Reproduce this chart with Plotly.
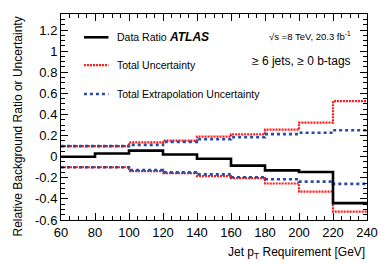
import plotly.graph_objects as go

edges = [60, 80, 100, 120, 140, 160, 180, 200, 220, 240]
data_ratio = [0.0, 0.03, 0.057, 0.02, -0.02, -0.085, -0.13, -0.145, -0.44]
tot_up = [0.1, 0.1, 0.135, 0.152, 0.19, 0.212, 0.256, 0.323, 0.527]
tot_dn = [-0.1, -0.1, -0.137, -0.157, -0.185, -0.203, -0.254, -0.332, -0.52]
ext_up = [0.1, 0.1, 0.112, 0.14, 0.165, 0.184, 0.214, 0.227, 0.25]
ext_dn = [-0.1, -0.1, -0.127, -0.149, -0.168, -0.195, -0.214, -0.236, -0.258]

xticks = [60, 80, 100, 120, 140, 160, 180, 200, 220, 240]
yticks = [-0.6, -0.4, -0.2, 0, 0.2, 0.4, 0.6, 0.8, 1.0, 1.2]
yticklabels = ["-0.6", "-0.4", "-0.2", "0", "0.2", "0.4", "0.6", "0.8", "1", "1.2"]

RED = "#ff1a1a"
BLUE = "#2a4aa8"
FONT = "Liberation Sans"

def step(vals):
    return list(vals) + [vals[-1]]

fig = go.Figure()
for vals in (tot_up, tot_dn):
    fig.add_trace(go.Scatter(x=edges, y=step(vals), mode="lines", line_shape="hv",
                             line=dict(color=RED, width=2.2, dash="2px,1px"), showlegend=False))
for vals in (ext_up, ext_dn):
    fig.add_trace(go.Scatter(x=edges, y=step(vals), mode="lines", line_shape="hv",
                             line=dict(color=BLUE, width=2.6, dash="3px,3px"), showlegend=False))
fig.add_trace(go.Scatter(x=edges, y=step(data_ratio), mode="lines", line_shape="hv",
                         line=dict(color="black", width=2.6), showlegend=False))

# legend samples
leg = [("Data Ratio", dict(color="black", width=2.6), 0.887),
       ("Total Uncertainty", dict(color=RED, width=2.2, dash="2px,1px"), 0.752),
       ("Total Extrapolation Uncertainty", dict(color=BLUE, width=2.6, dash="3px,3px"), 0.612)]
for txt, ln, yy in leg:
    fig.add_shape(type="line", xref="paper", yref="paper", x0=0.075, x1=0.155, y0=yy, y1=yy, line=ln)
    fig.add_annotation(text=txt, xref="paper", yref="paper", x=0.175, y=yy, xanchor="left",
                       yanchor="middle", showarrow=False, font=dict(family=FONT, size=10.5, color="black"))

fig.add_annotation(text="<b><i>ATLAS</i></b>", xref="paper", yref="paper", x=0.345, y=0.887,
                   xanchor="left", yanchor="middle", showarrow=False,
                   font=dict(family=FONT, size=12, color="black"))
fig.add_annotation(text="√s =8 TeV, 20.3 fb<sup>-1</sup>", xref="paper", yref="paper", x=0.955, y=0.895,
                   xanchor="right", yanchor="middle", showarrow=False,
                   font=dict(family=FONT, size=9.5, color="black"))
fig.add_annotation(text="≥ 6 jets, ≥ 0 b-tags", xref="paper", yref="paper", x=0.955, y=0.77,
                   xanchor="right", yanchor="middle", showarrow=False,
                   font=dict(family=FONT, size=12, color="black"))

fig.add_annotation(text="Jet p<sub>T</sub> Requirement [GeV]", xref="paper", yref="paper", x=1.0, y=-0.11,
                   xanchor="right", yanchor="top", showarrow=False,
                   font=dict(family=FONT, size=12, color="black"))
fig.add_annotation(text="Relative Background Ratio or Uncertainty", xref="paper", yref="paper",
                   x=-0.139, y=1.0, xanchor="center", yanchor="top", textangle=-90, showarrow=False,
                   font=dict(family=FONT, size=12, color="black"))

axis_common = dict(showline=True, linecolor="black", linewidth=1, mirror="allticks",
                   ticks="inside", ticklen=7, tickcolor="black", showgrid=False, zeroline=False,
                   tickfont=dict(family=FONT, size=13, color="black"))
fig.update_xaxes(range=[60, 240], tickvals=xticks,
                 minor=dict(ticks="inside", ticklen=4, dtick=5, tickcolor="black", showgrid=False),
                 **axis_common)
fig.update_yaxes(range=[-0.6, 1.352], tickvals=yticks, ticktext=yticklabels,
                 minor=dict(ticks="inside", ticklen=4, dtick=0.05, tick0=0, tickcolor="black", showgrid=False),
                 **axis_common)

fig.update_layout(width=390, height=265, margin=dict(l=61, r=20, t=14, b=45),
                  plot_bgcolor="white", paper_bgcolor="white", showlegend=False)
fig.write_html("out.html", config={"displayModeBar": False},
               post_script="document.body.style.margin='0';document.body.style.overflow='hidden';")
